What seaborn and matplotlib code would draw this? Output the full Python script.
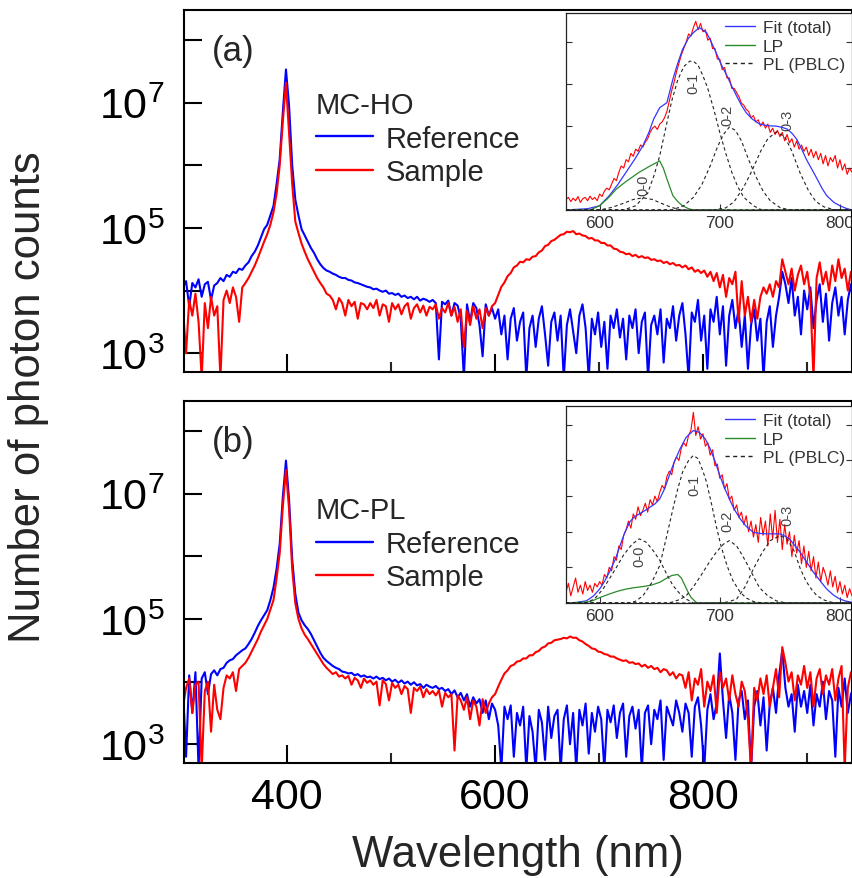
import numpy as np
import matplotlib
matplotlib.use("Agg")
import matplotlib.pyplot as plt
from matplotlib.lines import Line2D
from matplotlib.ticker import NullLocator, FixedLocator
import seaborn as sns

# main spectra: log10(photon counts), one value every 3 nm starting at 300 nm
wl_start, wl_step = 300, 3

ref_a = [4.05, 4.15, 3.75, 4.12, 4.05, 4.18, 3.9, 4.1, 4.14, 3.85, 4.08, 4.12, 4.2, 4.15, 4.25, 4.22, 4.3, 4.28, 4.35, 4.33,
         4.4, 4.45, 4.55, 4.62, 4.72, 4.85, 4.98, 5.05, 5.2, 5.35, 5.7, 6.1, 6.85, 7.53, 6.95, 6.0, 5.45, 5.2, 4.98, 4.88,
         4.78, 4.68, 4.6, 4.5, 4.42, 4.36, 4.32, 4.3, 4.27, 4.25, 4.22, 4.2, 4.2, 4.17, 4.16, 4.13, 4.12, 4.1, 4.08, 4.06,
         4.05, 4.02, 4.03, 4.0, 3.98, 4.0, 3.95, 3.96, 3.93, 3.95, 3.9, 3.92, 3.88, 3.9, 3.86, 3.9, 3.84, 3.87, 3.85, 3.82,
         3.85, 3.8, 2.9, 3.82, 3.78, 3.84, 3.6, 3.8, 3.76, 3.55, 2.6, 3.78, 3.5, 3.8, 3.72, 3.45, 2.95, 3.78, 3.6, 3.72,
         3.55, 3.7, 3.3, 3.6, 2.9, 3.55, 3.72, 3.2, 3.5, 3.65, 2.6, 3.4, 3.6, 3.1, 3.55, 3.75, 3.3, 2.8, 3.5, 3.65,
         3.2, 3.6, 2.6, 3.45, 3.7, 3.35, 3.0, 3.6, 3.78, 3.4, 2.6, 3.55, 3.3, 3.65, 3.1, 3.5, 2.75, 3.6, 3.4, 3.7,
         3.25, 3.55, 2.9, 3.6, 3.4, 3.7, 3.0, 3.5, 3.65, 2.6, 3.45, 3.6, 3.3, 3.7, 2.85, 3.55, 3.4, 3.75, 3.2, 3.6,
         3.8, 3.3, 2.6, 3.65, 3.5, 3.85, 3.2, 3.6, 2.75, 3.7, 3.5, 3.9, 3.3, 3.75, 2.8, 3.6, 3.85, 3.4, 3.7, 3.1,
         3.6, 2.75, 3.45, 3.7, 3.2, 3.55, 2.6, 3.5, 3.75, 3.1, 3.6, 3.9, 4.3, 4.1, 3.8, 4.2, 3.6, 3.9, 3.3, 4.0,
         3.7, 4.05, 3.4, 3.85, 4.1, 3.5, 3.95, 3.2, 3.8, 4.05, 3.6, 3.9, 3.3, 3.85, 4.1, 3.7]

smp_a = [3.7, 3.0, 3.85, 3.6, 3.95, 3.5, 2.6, 3.8, 3.4, 3.9, 3.6, 3.75, 2.6, 3.85, 4.0, 3.8, 4.05, 3.9, 3.5, 4.05,
         4.12, 4.2, 4.3, 4.4, 4.52, 4.65, 4.78, 4.9, 5.05, 5.25, 5.55, 6.0, 6.7, 7.32, 6.5, 5.7, 5.1, 4.92, 4.75, 4.62,
         4.5, 4.4, 4.3, 4.2, 4.12, 4.05, 3.95, 3.92, 3.85, 3.7, 3.88, 3.8, 3.6, 3.85, 3.75, 3.82, 3.55, 3.8, 3.78, 3.7,
         3.8, 3.72, 3.85, 3.6, 3.78, 3.75, 3.5, 3.8, 3.7, 3.78, 3.62, 3.75, 3.8, 3.55, 3.72, 3.78, 3.65, 3.76, 3.6, 3.74,
         3.7, 3.78, 3.55, 3.72, 3.65, 3.8, 3.6, 3.74, 3.5, 3.7, 3.1, 3.68, 3.45, 3.75, 3.55, 3.7, 3.4, 3.72, 3.6, 3.75,
         3.8, 3.93, 4.06, 4.13, 4.23, 4.28, 4.37, 4.4, 4.46, 4.45, 4.5, 4.49, 4.54, 4.55, 4.61, 4.64, 4.71, 4.73, 4.79, 4.81,
         4.85, 4.89, 4.9, 4.94, 4.93, 4.95, 4.9, 4.91, 4.88, 4.87, 4.83, 4.84, 4.8, 4.8, 4.76, 4.76, 4.72, 4.72, 4.67, 4.66,
         4.62, 4.61, 4.58, 4.59, 4.55, 4.57, 4.53, 4.55, 4.52, 4.53, 4.49, 4.5, 4.47, 4.48, 4.44, 4.46, 4.42, 4.44, 4.4, 4.41,
         4.37, 4.4, 4.34, 4.37, 4.3, 4.33, 4.28, 4.32, 4.22, 4.3, 4.15, 4.28, 4.05, 4.25, 3.9, 4.2, 4.1, 4.3, 3.5, 4.15,
         3.6, 3.9, 3.5, 3.85, 3.55, 3.9, 4.05, 3.95, 4.1, 3.9, 4.15, 4.05, 4.5, 4.3, 4.1, 4.35, 4.0, 4.25, 4.4, 4.1,
         4.3, 3.9, 2.6, 4.2, 4.45, 4.1, 4.3, 4.0, 4.4, 4.15, 4.5, 4.2, 4.35, 4.0, 4.3, 4.1]

ref_b = [3.9, 2.8, 4.1, 3.5, 4.15, 2.6, 4.05, 4.15, 3.8, 4.12, 4.18, 4.1, 4.2, 4.22, 4.3, 4.34, 4.36, 4.42, 4.46, 4.5,
         4.53, 4.6, 4.68, 4.78, 4.89, 4.98, 5.06, 5.14, 5.3, 5.5, 5.8, 6.2, 6.95, 7.53, 6.9, 5.95, 5.4, 5.1, 4.98, 4.9,
         4.84, 4.76, 4.66, 4.56, 4.46, 4.38, 4.33, 4.29, 4.25, 4.22, 4.2, 4.16, 4.15, 4.13, 4.14, 4.1, 4.12, 4.08, 4.1, 4.07,
         4.08, 4.05, 4.08, 4.04, 4.06, 4.02, 4.05, 4.0, 4.03, 3.98, 4.02, 3.97, 4.0, 3.95, 3.99, 3.94, 3.96, 3.9, 3.95, 3.92,
         3.9, 3.93, 3.88, 3.9, 3.85, 3.88, 3.8, 3.86, 3.75, 3.82, 3.7, 3.8, 3.6, 3.75, 3.65, 3.72, 3.5, 3.7, 3.4, 3.65,
         3.55, 3.3, 2.6, 3.6, 3.4, 3.62, 2.8, 3.5, 3.3, 3.6, 2.6, 3.45, 3.2, 2.6, 3.55, 3.35, 2.75, 3.6, 3.1, 3.45,
         3.55, 2.6, 3.4, 3.62, 3.0, 3.5, 2.6, 3.55, 3.3, 3.65, 2.85, 3.5, 3.2, 3.6, 3.4, 2.6, 3.55, 3.35, 3.62, 3.1,
         3.5, 3.65, 2.8, 3.45, 3.6, 3.25, 3.55, 2.6, 3.5, 3.62, 3.0, 3.55, 3.4, 3.7, 2.75, 3.6, 3.45, 3.3, 3.7, 3.5,
         3.2, 3.65, 3.5, 2.8, 3.6, 3.75, 3.3, 2.6, 3.55, 3.8, 3.4, 3.65, 4.45, 3.7, 3.1, 3.8, 3.5, 2.75, 3.7, 3.85,
         3.4, 3.7, 2.6, 3.6, 3.85, 3.3, 3.75, 2.9, 3.65, 3.9, 3.5, 4.1, 4.5, 3.9, 3.6, 3.8, 3.2, 3.95, 3.6, 3.85,
         3.5, 3.95, 3.3, 3.8, 3.6, 4.0, 3.4, 3.85, 3.7, 2.8, 3.9, 3.6, 4.05, 3.5, 3.8, 3.9]

smp_b = [3.6, 3.9, 4.05, 3.5, 3.95, 4.0, 2.6, 3.85, 4.0, 3.2, 3.95, 3.55, 3.4, 3.9, 4.1, 4.05, 4.15, 3.85, 4.2, 4.25,
         4.3, 4.38, 4.48, 4.58, 4.68, 4.8, 4.9, 5.0, 5.15, 5.3, 5.65, 6.05, 6.8, 7.38, 6.75, 5.8, 5.25, 5.0, 4.85, 4.75,
         4.68, 4.6, 4.52, 4.44, 4.36, 4.28, 4.22, 4.17, 4.12, 4.15, 4.08, 4.1, 4.05, 4.09, 3.95, 4.06, 4.02, 3.9, 4.05, 3.98,
         4.02, 3.95, 4.0, 3.62, 4.02, 3.96, 3.7, 3.98, 3.9, 3.95, 3.8, 3.93, 3.88, 3.5, 3.9, 3.85, 3.92, 3.75, 3.88, 3.8,
         3.85, 3.78, 3.86, 3.6, 3.82, 3.75, 3.8, 2.9, 3.78, 3.7, 3.55, 3.75, 3.4, 3.7, 3.6, 3.3, 3.72, 3.5, 3.65, 3.75,
         3.8, 3.92, 4.03, 4.13, 4.18, 4.25, 4.27, 4.32, 4.33, 4.37, 4.37, 4.42, 4.42, 4.47, 4.49, 4.54, 4.56, 4.61, 4.62, 4.66,
         4.67, 4.68, 4.7, 4.69, 4.72, 4.7, 4.7, 4.66, 4.64, 4.6, 4.57, 4.53, 4.52, 4.48, 4.47, 4.44, 4.43, 4.4, 4.4, 4.37,
         4.35, 4.33, 4.34, 4.3, 4.31, 4.28, 4.29, 4.24, 4.27, 4.22, 4.25, 4.2, 4.22, 4.15, 4.2, 4.18, 4.1, 4.15, 4.05, 4.12,
         4.1, 3.9, 4.15, 3.7, 4.05, 3.95, 4.2, 3.6, 4.0, 3.85, 4.1, 3.5, 4.15, 3.9, 4.05, 3.7, 4.1, 3.8, 3.6, 4.0,
         3.85, 3.4, 2.6, 3.9, 3.7, 4.05, 3.8, 4.1, 3.6, 3.9, 4.2, 3.75, 4.55, 4.3, 4.0, 4.15, 3.7, 4.1, 3.95, 4.25,
         3.9, 4.15, 3.6, 4.05, 4.2, 3.8, 4.1, 3.95, 4.2, 3.7, 4.05, 4.25, 2.6, 3.9, 4.15, 4.0]

# inset spectra (arb. units), one value every 2 nm starting at 572 nm
ins_start, ins_step = 572, 2

ins_smp_a = [0.25, 0.3, 0.2, 0.28, 0.22, 0.32, 0.18, 0.27, 0.3, 0.22,
             0.33, 0.25, 0.3, 0.22, 0.38, 0.32, 0.45, 0.52, 0.48, 0.62,
             0.75, 0.7, 0.9, 1.05, 1.0, 1.2, 1.15, 1.35, 1.28, 1.45,
             1.4, 1.55, 1.5, 1.62, 1.7, 1.85, 1.95, 2.0, 1.92, 2.05,
             2.1, 2.2, 2.35, 2.6, 2.85, 3.05, 3.3, 3.5, 3.7, 3.85,
             4.0, 4.2, 4.15, 4.35, 4.5, 4.3, 4.45, 4.25, 4.3, 4.05,
             4.1, 3.85, 3.85, 3.6, 3.6, 3.35, 3.4, 3.15, 3.15, 2.9,
             2.9, 2.8, 2.7, 2.55, 2.5, 2.4, 2.35, 2.2, 2.25, 2.1,
             2.15, 2.0, 2.1, 1.95, 2.05, 1.85, 1.95, 1.8, 1.9, 1.75,
             1.85, 1.65, 1.8, 1.6, 1.7, 1.5, 1.65, 1.45, 1.55, 1.4,
             1.5, 1.3, 1.45, 1.25, 1.4, 1.2, 1.35, 1.1, 1.3, 1.05,
             1.25, 1.15, 1.3, 1.0, 1.2, 0.95, 1.1, 0.85, 1.0, 0.9]

ins_smp_b = [0.3, 0.55, 0.2, 0.45, 0.7, 0.3, 0.5, 0.25, 0.6, 0.35,
             0.5, 0.3, 0.55, 0.45, 0.6, 0.5, 0.8, 0.7, 1.0, 0.9,
             1.3, 1.2, 1.6, 1.5, 1.9, 2.05, 2.3, 2.1, 2.5, 2.35,
             2.7, 2.45, 2.6, 2.8, 2.55, 2.9, 2.75, 3.0, 2.85, 3.1,
             3.3, 3.2, 3.55, 3.7, 3.6, 3.95, 4.1, 4.0, 4.35, 4.5,
             4.4, 4.7, 4.85, 5.35, 4.7, 4.95, 4.6, 4.75, 4.4, 4.5,
             4.15, 4.3, 3.85, 3.9, 3.5, 3.6, 3.2, 3.35, 2.9, 3.0,
             2.6, 2.75, 2.4, 2.55, 2.2, 2.45, 2.0, 2.3, 1.85, 2.2,
             1.7, 2.4, 1.9, 2.3, 1.6, 2.5, 1.8, 2.6, 1.7, 2.35,
             1.5, 2.2, 1.65, 2.0, 1.3, 1.9, 1.4, 1.75, 1.1, 1.6,
             1.0, 1.45, 0.9, 1.3, 0.7, 1.15, 0.6, 1.0, 0.8, 0.5,
             0.9, 0.45, 0.75, 0.3, 0.6, 0.25, 0.5, 0.15, 0.4, 0.2]

# fitted curves (a)
fit_a_x = [572, 590, 600, 608, 615, 622, 629, 636, 641, 645, 650, 656, 661, 665, 669, 674, 678, 683, 689, 693, 697, 701, 706,
           710, 714, 718, 722, 727, 733, 740, 747, 752, 756, 760, 764, 768, 772, 777, 781, 785, 789, 795, 800, 805, 810]
fit_a_y = [0, 0.03, 0.1, 0.34, 0.6, 0.9, 1.2, 1.53, 1.85, 2.17, 2.44, 2.56, 3.12, 3.5, 3.83, 4.1, 4.23, 4.35, 4.23, 4.0, 3.75,
           3.48, 3.2, 2.95, 2.72, 2.5, 2.32, 2.17, 2.05, 2.01, 2.0, 1.97, 1.93, 1.83, 1.69, 1.46, 1.21, 0.95, 0.74, 0.52,
           0.34, 0.18, 0.1, 0.04, 0.0]
lp_a_x = [572, 592, 600, 607, 614, 622, 633, 642, 650, 653, 656, 661, 665, 669, 674, 678, 810]
lp_a_y = [0, 0, 0.1, 0.28, 0.5, 0.68, 0.9, 1.05, 1.17, 1.0, 0.74, 0.34, 0.2, 0.1, 0.03, 0, 0]
c00_a_x = [572, 600, 610, 620, 628, 636, 644, 652, 660, 668, 810]
c00_a_y = [0, 0, 0.06, 0.16, 0.25, 0.29, 0.25, 0.15, 0.06, 0, 0]
c01_a_x = [572, 620, 630, 640, 645, 650, 655, 660, 665, 670, 675, 678, 682, 686, 690, 695, 700, 705, 710, 715, 720, 728, 735, 810]
c01_a_y = [0, 0, 0.1, 0.4, 0.8, 1.29, 1.95, 2.6, 3.1, 3.42, 3.55, 3.55, 3.45, 3.2, 2.9, 2.4, 1.85, 1.35, 0.9, 0.55, 0.3, 0.1, 0, 0]
c02_a_x = [572, 660, 670, 678, 685, 692, 698, 703, 708, 713, 718, 724, 730, 736, 742, 750, 758, 810]
c02_a_y = [0, 0, 0.1, 0.3, 0.6, 1.05, 1.5, 1.8, 1.98, 1.9, 1.65, 1.2, 0.8, 0.45, 0.22, 0.06, 0, 0]
c03_a_x = [572, 695, 705, 712, 720, 727, 734, 740, 747, 754, 760, 767, 774, 780, 787, 795, 803, 810]
c03_a_y = [0, 0, 0.05, 0.2, 0.55, 0.95, 1.4, 1.7, 1.86, 1.75, 1.4, 0.87, 0.45, 0.2, 0.07, 0.01, 0, 0]

# fitted curves (b)
fit_b_x = [572, 578, 589, 595, 600, 604, 608, 613, 617, 621, 625, 629, 633, 638, 642, 646, 650, 654, 658, 662, 667, 672, 678,
           683, 688, 692, 696, 700, 704, 708, 712, 717, 722, 728, 734, 739, 745, 750, 754, 758, 762, 767, 772, 778, 784, 789,
           795, 800, 805, 810]
fit_b_y = [0, 0, 0.06, 0.2, 0.39, 0.6, 0.86, 1.22, 1.61, 1.98, 2.27, 2.42, 2.5, 2.6, 2.69, 2.78, 2.92, 3.2, 3.58, 3.95, 4.33,
           4.65, 4.84, 4.79, 4.6, 4.33, 3.98, 3.58, 3.22, 2.92, 2.63, 2.36, 2.15, 1.98, 1.95, 1.94, 1.94, 1.94, 1.88, 1.8,
           1.63, 1.42, 1.16, 0.86, 0.6, 0.39, 0.21, 0.11, 0.05, 0.02]
lp_b_x = [572, 590, 594, 600, 608, 615, 622, 629, 636, 643, 650, 655, 660, 665, 668, 671, 674, 676, 679, 681, 810]
lp_b_y = [0, 0.03, 0.06, 0.15, 0.25, 0.33, 0.39, 0.43, 0.46, 0.5, 0.58, 0.68, 0.77, 0.8, 0.7, 0.49, 0.28, 0.16, 0.06, 0.0, 0.0]
c00_b_x = [572, 590, 597, 603, 608, 614, 620, 627, 633, 639, 645, 650, 656, 661, 667, 672, 678, 810]
c00_b_y = [0, 0, 0.16, 0.4, 0.67, 1.0, 1.35, 1.65, 1.8, 1.7, 1.45, 1.2, 0.8, 0.49, 0.25, 0.11, 0, 0]
c01_b_x = [572, 625, 630, 636, 643, 650, 656, 661, 665, 669, 674, 678, 682, 686, 689, 693, 697, 701, 706, 711, 717, 722, 728,
           735, 810]
c01_b_y = [0, 0, 0.05, 0.2, 0.55, 1.05, 1.9, 2.64, 3.2, 3.67, 4.0, 4.14, 4.05, 3.7, 3.39, 2.8, 2.17, 1.6, 1.05, 0.62, 0.3,
           0.14, 0.04, 0, 0]
c02_b_x = [572, 655, 660, 667, 672, 679, 686, 692, 697, 703, 708, 714, 718, 722, 728, 733, 740, 747, 755, 810]
c02_b_y = [0, 0, 0.02, 0.1, 0.2, 0.5, 0.86, 1.18, 1.42, 1.65, 1.75, 1.6, 1.38, 1.14, 0.75, 0.43, 0.2, 0.06, 0, 0]
c03_b_x = [572, 700, 707, 714, 721, 728, 735, 742, 750, 756, 762, 767, 772, 777, 781, 787, 793, 800, 810]
c03_b_y = [0, 0, 0.03, 0.11, 0.45, 0.96, 1.4, 1.75, 1.89, 1.8, 1.45, 0.96, 0.6, 0.35, 0.2, 0.08, 0.02, 0, 0]

band_names = ["0-0", "0-1", "0-2", "0-3"]
band_lab_a = [(636, 0.62), (678, 3.05), (706, 2.29), (756, 2.17)]
band_lab_b = [(633, 1.33), (679, 3.34), (706, 2.31), (756, 2.5)]

# style ---------------------------------------------------------------
sns.set_theme(style="ticks")
plt.rcParams["font.family"] = ["Liberation Sans", "DejaVu Sans"]
plt.rcParams["mathtext.default"] = "regular"
plt.rcParams["axes.linewidth"] = 1.5

BLUE, RED = "#0000ff", "#ff0000"
GREY = "#333333"

fig = plt.figure(figsize=(8.53, 8.79), dpi=100)
ax_a = fig.add_axes([0.2157, 0.5757, 0.7831, 0.4118])
ax_b = fig.add_axes([0.2157, 0.1308, 0.7831, 0.4118])


def draw_main(ax, ref, smp, name, tag, leg_y):
    ax.set_yscale("log")
    wl_r = wl_start + wl_step * np.arange(len(ref))
    wl_s = wl_start + wl_step * np.arange(len(smp))
    sns.lineplot(x=wl_r, y=10 ** np.array(ref), color=BLUE, lw=1.5, ax=ax,
                 estimator=None, sort=False, legend=False)
    sns.lineplot(x=wl_s, y=10 ** np.array(smp), color=RED, lw=1.5, ax=ax,
                 estimator=None, sort=False, legend=False)
    ax.set_xlim(301, 943)
    ax.set_ylim(10 ** 2.7, 10 ** 8.48)
    ax.yaxis.set_major_locator(FixedLocator([1e3, 1e4, 1e5, 1e6, 1e7, 1e8]))
    ax.set_yticklabels(["$10^{3}$", "", "$10^{5}$", "", "$10^{7}$", ""])
    ax.yaxis.set_minor_locator(NullLocator())
    ax.set_xticks([400, 600, 800])
    ax.set_xticks([500, 700, 900], minor=True)
    ax.tick_params(which="major", direction="in", length=13, width=1.5, labelsize=31,
                   top=False, right=False, colors="black")
    ax.tick_params(which="minor", direction="in", length=7, width=1.5, top=False, right=False)
    ax.tick_params(axis="y", pad=14)
    ax.tick_params(axis="x", pad=10)
    ax.set_xlabel("")
    ax.set_ylabel("")
    for sp in ax.spines.values():
        sp.set_linewidth(1.5)
        sp.set_color("black")
    ax.text(0.042, 0.889, tag, transform=ax.transAxes, fontsize=25, va="center", ha="left")
    handles = [Line2D([], [], color=BLUE, lw=1.7), Line2D([], [], color=RED, lw=1.7)]
    ax.legend(handles, ["Reference", "Sample"], title=name, loc="upper left",
              bbox_to_anchor=(0.1976, leg_y), frameon=False, fontsize=21, title_fontsize=21,
              handlelength=1.95, handletextpad=0.45, labelspacing=0.19,
              borderpad=0, borderaxespad=0, alignment="left")


def draw_inset(rect, smp, fit, lp, comps, labs, ytop, yticks):
    ins = fig.add_axes(rect)
    wl = ins_start + ins_step * np.arange(len(smp))
    sns.lineplot(x=wl, y=smp, color=RED, lw=0.8, ax=ins, estimator=None, sort=False, legend=False)
    sns.lineplot(x=fit[0], y=fit[1], color="#3535ff", lw=0.9, ax=ins, estimator=None, sort=False, legend=False)
    sns.lineplot(x=lp[0], y=lp[1], color="#2a8a2a", lw=0.9, ax=ins, estimator=None, sort=False, legend=False)
    for cx, cy in comps:
        ins.plot(cx, cy, color="#222222", lw=0.8, ls=(0, (3, 2.5)))
    for s, (lx, ly) in zip(band_names, labs):
        ins.text(lx, ly, s, rotation=90, fontsize=10.5, color="#444444", ha="center", va="center")
    ins.set_xlim(572, 810)
    ins.set_ylim(0, ytop)
    ins.set_xticks([600, 700, 800])
    ins.set_yticks(yticks)
    ins.set_yticklabels([])
    ins.set_xlabel("")
    ins.set_ylabel("")
    ins.tick_params(direction="in", length=4, width=0.8, labelsize=12.5, labelcolor=GREY,
                    left=True, right=True, bottom=True, top=False, pad=3.5, colors=GREY)
    for sp in ins.spines.values():
        sp.set_linewidth(0.9)
        sp.set_color("#222222")
    ins.set_facecolor("white")
    handles = [Line2D([], [], color="#3535ff", lw=1.0),
               Line2D([], [], color="#2a8a2a", lw=1.0),
               Line2D([], [], color="#222222", lw=1.0, ls=(0, (3, 2.5)))]
    leg = ins.legend(handles, ["Fit (total)", "LP", "PL (PBLC)"], loc="upper right", frameon=False,
                     fontsize=12.5, handlelength=1.75, handletextpad=0.45, labelspacing=0.2,
                     borderpad=0.1, borderaxespad=0.3)
    for t in leg.get_texts():
        t.set_color(GREY)
    return ins


draw_main(ax_a, ref_a, smp_a, "MC-HO", "(a)", 0.776)
draw_main(ax_b, ref_b, smp_b, "MC-PL", "(b)", 0.737)
ax_a.tick_params(axis="x", labelbottom=False)
ax_b.set_xlabel("Wavelength (nm)", fontsize=31.5, labelpad=12)

draw_inset([0.6635, 0.7600, 0.3353, 0.2241], ins_smp_a, (fit_a_x, fit_a_y), (lp_a_x, lp_a_y),
           [(c00_a_x, c00_a_y), (c01_a_x, c01_a_y), (c02_a_x, c02_a_y), (c03_a_x, c03_a_y)],
           band_lab_a, 4.7, [1, 2, 3, 4])
draw_inset([0.6635, 0.3129, 0.3353, 0.2241], ins_smp_b, (fit_b_x, fit_b_y), (lp_b_x, lp_b_y),
           [(c00_b_x, c00_b_y), (c01_b_x, c01_b_y), (c02_b_x, c02_b_y), (c03_b_x, c03_b_y)],
           band_lab_b, 5.53, [1, 2, 3, 4, 5])

fig.text(0.033, 0.548, "Number of photon counts", rotation=90, fontsize=31.5, ha="center", va="center")

fig.savefig("out.png", dpi=100)
